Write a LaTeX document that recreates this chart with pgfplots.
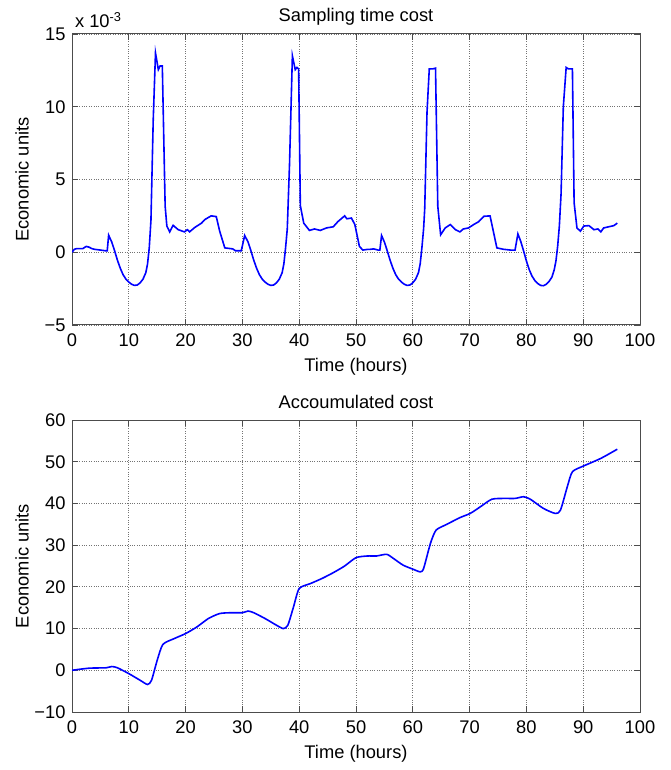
\documentclass[border=0pt]{standalone}
\usepackage{fontspec}
\setmainfont{Liberation Sans}
\usepackage{pgfplots}
\pgfplotsset{compat=1.18}
\pgfplotsset{
  mystyle/.style={
    scale only axis,
    anchor=south west,
    width=568pt,
    clip mode=individual,
    xmin=0, xmax=100,
    xtick={0,10,...,100},
    tick align=inside,
    major tick length=6pt,
    grid=major,
    grid style={dotted, black!55, line width=0.8pt},
    axis line style={black!70, line width=1pt},
    every tick/.style={black!70, line width=0.8pt},
    /pgf/number format/assume math mode=true,
    tick label style={font=\fontsize{18.3}{21}\selectfont},
    label style={font=\fontsize{18.3}{21}\selectfont},
    title style={font=\fontsize{18.3}{21}\selectfont, at={(0.5,1)}, anchor=base, yshift=6pt},
    xlabel style={at={(axis description cs:0.5,-0.142)}, anchor=center},
    ylabel style={at={(axis description cs:-0.088,0.5)}, anchor=center},
    xticklabel style={yshift=-5pt},
    yticklabel style={xshift=-3pt},
    xlabel={Time (hours)},
    ylabel={Economic units},
  }
}
\begin{document}
\begin{tikzpicture}[font=\fontsize{18.3}{21}\selectfont]
\useasboundingbox (0,0) rectangle (671pt,770pt);
\begin{axis}[mystyle,
  at={(72pt,445pt)}, height=291pt,
  ymin=-5, ymax=15,
  ytick={-5,0,5,10,15},
  yticklabels={−5,0,5,10,15},
  title={Sampling time cost},
]
\addplot[blue, line width=1.6pt] coordinates {
(0,0) (0.4,0.2) (0.8,0.25) (1.9,0.25) (2.5,0.4) (3,0.35) (3.5,0.25) (4,0.2) (5,0.15) (5.9,0.1) (6.2,0.1) (6.45,1.17)
(7,0.7) (7.5,0.1) (8,-0.55) (8.5,-1.1) (9,-1.55) (9.5,-1.85) (10,-2.05) (10.5,-2.2) (11,-2.28) (11.5,-2.25) (12,-2.1) (12.5,-1.85) (13,-1.4) (13.3,-0.8) (13.6,0.3) (13.9,2.2)
(14.3,9.1) (14.7,13.7) (15.2,12.55) (15.5,12.8) (15.9,12.8) (16.4,3.16) (16.7,1.8) (17.2,1.4) (17.8,1.85) (18.7,1.55) (19.8,1.4) (20.3,1.55) (20.7,1.4) (21.6,1.7) (22.8,2.0) (23.4,2.25) (24.5,2.5) (25.4,2.45) (26,1.45) (26.9,0.3) (28.3,0.23) (28.8,0.1) (29.8,0.1) (30.4,1.15)
(31,0.7) (31.5,0.1) (32,-0.55) (32.5,-1.1) (33,-1.55) (33.5,-1.85) (34,-2.05) (34.5,-2.2) (35,-2.28) (35.5,-2.25) (36,-2.1) (36.5,-1.85) (37,-1.4) (37.3,-0.8) (37.6,0.3) (37.9,1.6)
(38.3,6.1) (38.8,13.5) (39.3,12.55) (39.6,12.7) (39.9,12.6) (40.2,3.2) (40.8,2.0) (41.8,1.5) (42.7,1.6) (43.7,1.5) (44.8,1.67) (46,1.75) (46.8,2.1) (48,2.5) (48.4,2.3) (49.2,2.35) (49.8,1.9) (50.6,0.4) (51.2,0.15) (52.1,0.2) (52.5,0.2) (53.1,0.23) (53.9,0.15) (54.2,0.15) (54.5,1.15)
(55,0.7) (55.5,0.1) (56,-0.55) (56.5,-1.1) (57,-1.55) (57.5,-1.85) (58,-2.05) (58.5,-2.2) (59,-2.28) (59.5,-2.25) (60,-2.1) (60.5,-1.85) (61,-1.4) (61.3,-0.8) (61.6,0.3) (61.9,1.6)
(62.1,3.0) (62.5,9.6) (62.9,12.6) (63.5,12.6) (64,12.65) (64.4,3.16) (64.9,1.2) (65.7,1.67) (66.6,1.9) (67.5,1.55) (68.3,1.4) (68.9,1.6) (69.8,1.67) (70.7,1.9) (71.6,2.1) (72.5,2.47) (73.6,2.5) (74.8,0.3) (76,0.2) (77.2,0.15) (78,0.15) (78.5,1.26)
(79,0.75) (79.5,0.1) (80,-0.6) (80.5,-1.2) (81,-1.65) (81.5,-1.95) (82,-2.15) (82.5,-2.28) (83,-2.3) (83.5,-2.2) (84,-2.0) (84.5,-1.7) (84.9,-1.2) (85.2,-0.6) (85.5,0.4) (85.8,1.8)
(86.1,4.0) (86.5,10.0) (87,12.7) (87.4,12.6) (88.1,12.6) (88.4,3.4) (88.9,1.67) (89.5,1.45) (90.1,1.8) (91,1.83) (91.9,1.55) (92.6,1.6) (93.1,1.4) (93.6,1.67) (94.5,1.75) (95.4,1.83) (96,2.0)
};
\node[anchor=base west, inner sep=0pt] at (axis description cs:0.005,1) [yshift=6pt] {x 10\textsuperscript{-3}};
\end{axis}
\begin{axis}[mystyle,
  at={(72pt,58pt)}, height=292pt,
  ymin=-10, ymax=60,
  ytick={-10,0,...,60},
  yticklabels={−10,0,10,20,30,40,50,60},
  title={Accoumulated cost},
]
\addplot[blue, line width=1.6pt, smooth, tension=0.4] coordinates {
(0,0) (3,0.5) (6,0.6) (7,0.9) (8,0.6) (10,-0.8) (12,-2.4) (13.3,-3.4) (14,-2.4) (15,2.4) (16,6.2) (18,7.6) (20,8.8) (22,10.4) (24,12.4) (26,13.6) (28,13.8) (30,13.8) (31,14.2) (32,13.8) (34,12.4) (36,10.8) (37.2,10) (38,10.8) (39,15.2) (40,19.6) (42,20.8) (44,22) (46,23.4) (48,25) (50,27) (52,27.4) (53.6,27.4) (55.4,27.8) (56.6,26.8) (58.3,25.2) (60.1,24.2) (61.3,23.6) (61.9,24.4) (63.1,30.4) (64.1,33.6) (66,35) (68.3,36.6) (70.1,37.6) (71.9,39.2) (73.9,41) (76,41.2) (78,41.2) (79.5,41.6) (80.7,41) (83,38.8) (85.1,37.6) (86,38.4) (87.2,44) (88.1,47.6) (90.1,49) (93.1,50.8) (96,53)
};
\end{axis}
\end{tikzpicture}
\end{document}
